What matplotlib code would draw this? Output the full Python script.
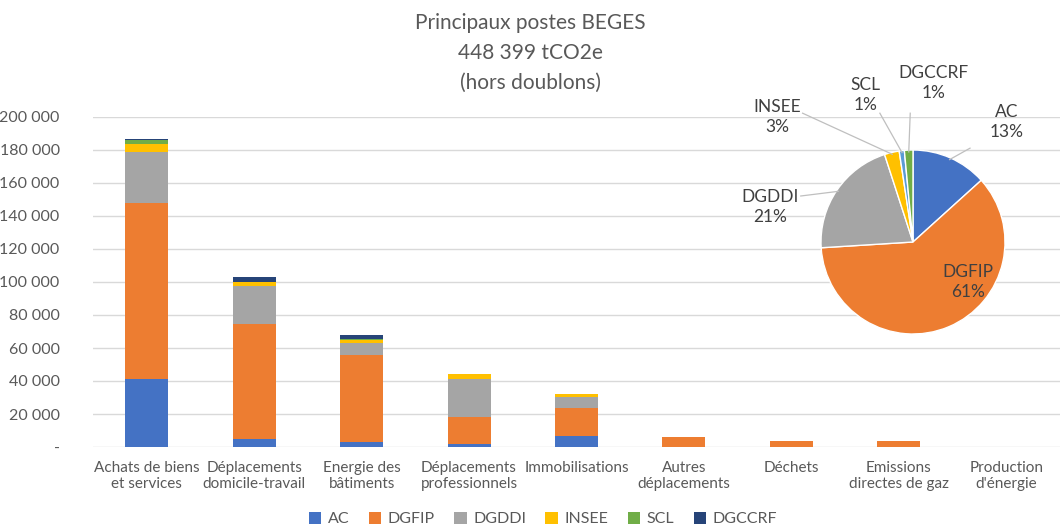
import matplotlib.pyplot as plt
import numpy as np

plt.rcParams['font.family'] = ['Lato', 'DejaVu Sans']

# Bar chart data (tCO2e)
categories = ['Achats de biens\net services', 'Déplacements\ndomicile-travail',
              'Energie des\nbâtiments', 'Déplacements\nprofessionnels',
              'Immobilisations', 'Autres\ndéplacements', 'Déchets',
              'Emissions\ndirectes de gaz', "Production\nd'énergie"]
entities = ['AC', 'DGFIP', 'DGDDI', 'INSEE', 'SCL', 'DGCCRF']
ac     = [41000, 4800, 3000, 2000, 6500, 300, 100, 100, 0]
dgfip  = [107000, 69500, 52500, 16000, 17300, 5500, 3500, 3400, 0]
dgddi  = [31000, 23500, 7500, 23500, 6500, 0, 0, 0, 0]
insee  = [4500, 2000, 2000, 3000, 1800, 0, 0, 0, 0]
scl    = [2300, 500, 500, 0, 300, 0, 0, 0, 0]
dgccrf = [1000, 2800, 2500, 0, 0, 0, 0, 0, 0]
series = [ac, dgfip, dgddi, insee, scl, dgccrf]
bar_colors = ['#4472C4', '#ED7D31', '#A5A5A5', '#FFC000', '#70AD47', '#264478']

# Pie data (share of total, %)
pie_share = [13.3, 60.7, 21.0, 2.6, 0.9, 1.5]
pie_labels = ['AC\n13%', 'DGFIP\n61%', 'DGDDI\n21%', 'INSEE\n3%', 'SCL\n1%', 'DGCCRF\n1%']
pie_colors = ['#4472C4', '#ED7D31', '#A5A5A5', '#FFC000', '#5B9BD5', '#70AD47']

W, H = 1062, 529
fig = plt.figure(figsize=(W / 100, H / 100), dpi=100)

# --- stacked bars ---
ax = fig.add_axes([93 / W, 1 - 447 / H, 967 / W, 330 / H])
x = np.arange(len(categories))
bottom = np.zeros(len(categories))
for name, vals, col in zip(entities, series, bar_colors):
    ax.bar(x, vals, 0.4, bottom=bottom, color=col, label=name, zorder=3)
    bottom += np.array(vals)

ax.set_xlim(-0.5, len(categories) - 0.5)
ax.set_ylim(0, 200000)
ax.set_yticks(np.arange(0, 200001, 20000))
ax.set_yticklabels(['-'] + [f'{v:,}'.replace(',', ' ') for v in range(20000, 200001, 20000)])
ax.set_xticks(x)
ax.set_xticklabels(categories)
ax.tick_params(axis='y', length=0, pad=24, labelsize=11.5, labelcolor='#595959')
ax.tick_params(axis='x', length=0, pad=10, labelsize=11, labelcolor='#595959')
ax.grid(axis='y', color='#D9D9D9', linewidth=1, zorder=0)
for s in ax.spines.values():
    s.set_visible(False)

fig.text(530 / W, 1 - 53 / H, 'Principaux postes BEGES\n448 399 tCO2e\n(hors doublons)',
         ha='center', va='center', fontsize=15, color='#595959', linespacing=1.6)

fig.legend(*ax.get_legend_handles_labels(), loc='center', bbox_to_anchor=(543 / W, 1 - 519 / H),
           ncol=6, frameon=False, fontsize=11.5, labelcolor='#595959',
           handlelength=0.8, handleheight=0.8, handletextpad=0.4, columnspacing=1.2)

# --- pie ---
r_px = 92
cx, cy = 913, 242
side = 300
pax = fig.add_axes([(cx - side / 2) / W, 1 - (cy + side / 2) / H, side / W, side / H])
wedges, _ = pax.pie(pie_share, colors=pie_colors, startangle=90, counterclock=False,
                    wedgeprops=dict(edgecolor='white', linewidth=1))
lim = side / 2 / r_px
pax.set_xlim(-lim, lim)
pax.set_ylim(-lim, lim)
pax.set_aspect('equal')
pax.axis('off')

# label positions in pie data units (1 unit = radius)
label_pos = [(1.02, 1.30), (0.60, -0.43), (-1.55, 0.38), (-1.48, 1.36), (-0.52, 1.60), (0.22, 1.73)]
line_start = [(0.62, 1.02), None, (-1.22, 0.5), (-1.2, 1.4), (-0.36, 1.4), (-0.03, 1.4)]
for i, (w, lab, pos) in enumerate(zip(wedges, pie_labels, label_pos)):
    if line_start[i] is not None:
        ang = np.deg2rad((w.theta1 + w.theta2) / 2)
        tip = (np.cos(ang) * 0.98, np.sin(ang) * 0.98)
        st = line_start[i]
        pax.plot([st[0], tip[0]], [st[1], tip[1]], color='#BFBFBF', lw=0.9, clip_on=False)
    pax.text(pos[0], pos[1], lab, ha='center', va='center', fontsize=12.5,
             color='#404040', linespacing=1.3)

fig.savefig('out.png', dpi=100)
